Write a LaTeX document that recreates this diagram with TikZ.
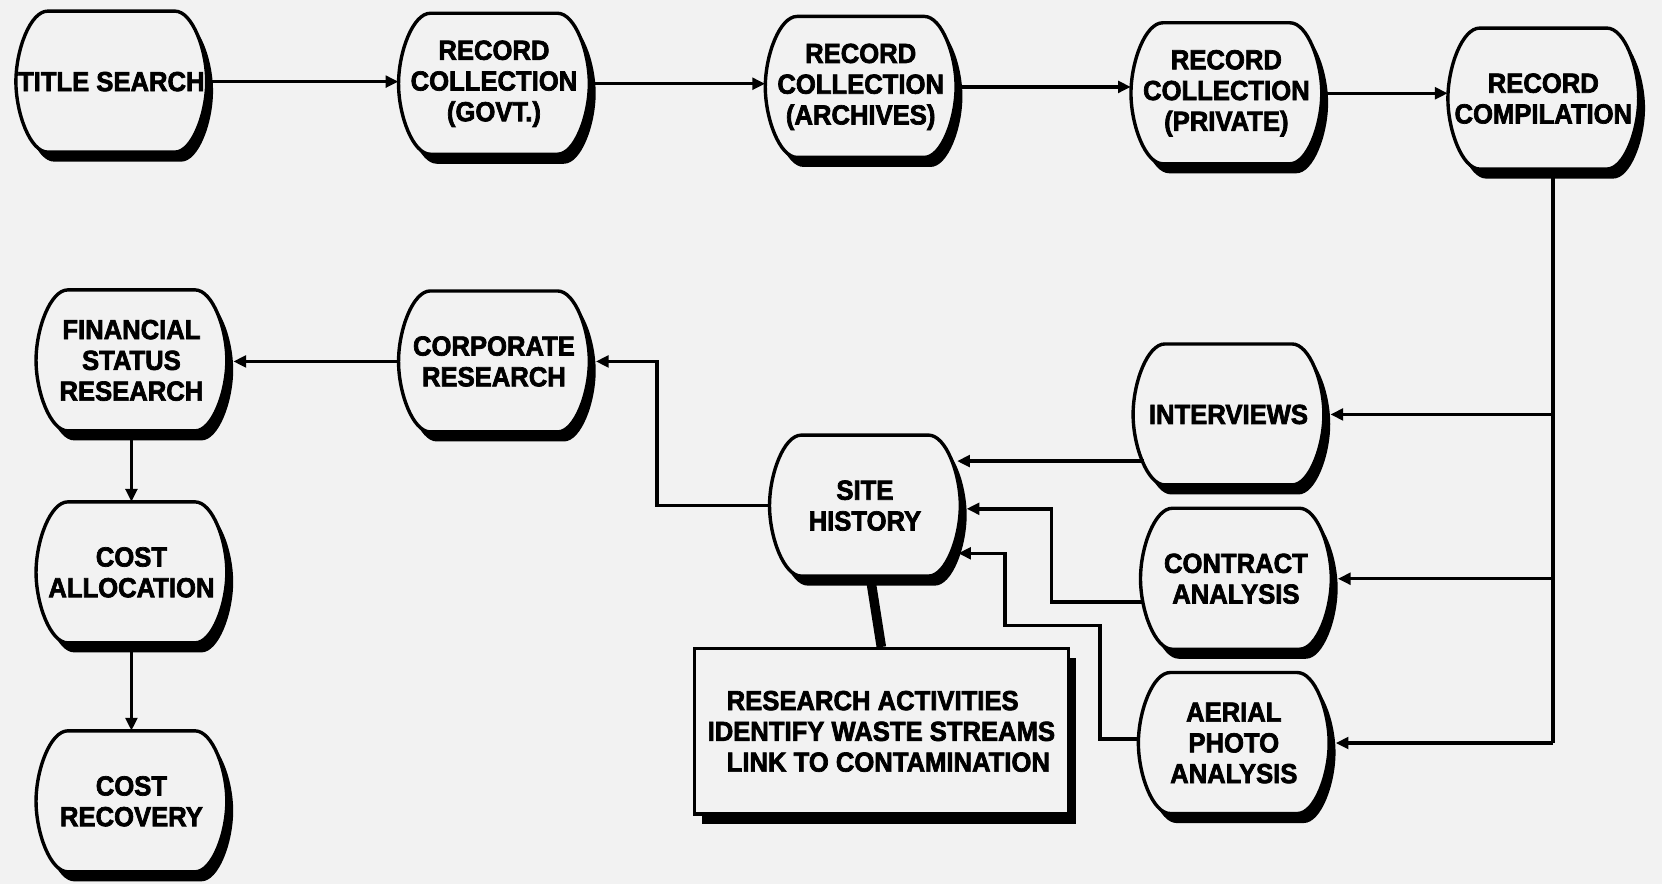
\documentclass[tikz,border=0pt]{standalone}
\usepackage{fontspec}
\setmainfont{Liberation Sans}
\newfontfamily\boxfont{Liberation Sans Bold}[FakeStretch=0.93,FakeBold=2.5]
\usetikzlibrary{arrows.meta,calc}
\definecolor{bg}{gray}{0.95}
\tikzset{
  boxtext/.style={align=center, font=\boxfont\fontsize{26}{29}\selectfont, minimum width=180pt, minimum height=133pt, inner sep=0pt},
  conn/.style={line width=3.3pt, draw=black},
  arr/.style={conn, -{Triangle[length=12pt,width=11pt]}},
  outline/.style={fill=bg, draw=black, line width=3.2pt},
  barrel/.pic={\path[pic actions] (-60,-66.5) -- (60,-66.5) .. controls (76.5,-66.5) and (90,-29.8) .. (90,0) .. controls (90,29.8) and (76.5,66.5) .. (60,66.5) -- (-60,66.5) .. controls (-76.5,66.5) and (-90,29.8) .. (-90,0) .. controls (-90,-29.8) and (-76.5,-66.5) .. cycle;},
  notebox/.style={fill=bg, draw=black, line width=3.2pt, minimum width=353pt, minimum height=156pt, inner sep=0pt, align=left, font=\boxfont\fontsize{26}{29}\selectfont},
}
\newcommand\bbox[4]{%
  \pic[fill=black] at (#2+6,#3+9) {barrel};
  \pic[outline] at (#2,#3) {barrel};
  \node[boxtext] (#1) at (#2,#3) {#4};
}
\begin{document}
\begin{tikzpicture}[x=1pt,y=-1pt]
\fill[bg] (0,0) rectangle (1568,834);
\useasboundingbox (0,0) rectangle (1568,834);
\bbox{title}{105}{77}{TITLE SEARCH}
\bbox{govt}{466}{79}{RECORD\\COLLECTION\\(GOVT.)}
\bbox{arch}{812}{82}{RECORD\\COLLECTION\\(ARCHIVES)}
\bbox{priv}{1157}{88}{RECORD\\COLLECTION\\(PRIVATE)}
\bbox{comp}{1456}{93}{RECORD\\COMPILATION}
\bbox{fin}{124}{340}{FINANCIAL\\STATUS\\RESEARCH}
\bbox{corp}{466}{341}{CORPORATE\\RESEARCH}
\bbox{intv}{1159}{391}{INTERVIEWS}
\bbox{site}{816}{477}{SITE\\HISTORY}
\bbox{contr}{1166}{546}{CONTRACT\\ANALYSIS}
\bbox{aer}{1164}{701}{AERIAL\\PHOTO\\ANALYSIS}
\bbox{alloc}{124}{540}{COST\\ALLOCATION}
\bbox{recov}{124}{756}{COST\\RECOVERY}
% note box
\fill[black] (662,621) rectangle (1015,777);
\node[notebox] (note) at (831.5,690) {\hspace*{18pt}RESEARCH ACTIVITIES\\IDENTIFY WASTE STREAMS\\\hspace*{18pt}LINK TO CONTAMINATION};
\draw[line width=9pt] ($(site.south)+(5,0)$) -- (note.north);
% top row
\draw[arr] (title.east) -- (title.east -| govt.west);
\draw[arr] (govt.east) -- (govt.east -| arch.west);
\draw[arr] (arch.east) -- (arch.east -| priv.west);
\draw[arr] (priv.east) -- (priv.east -| comp.west);
% trunk
\coordinate (tb) at (1465,701);
\draw[conn] (comp.south -| tb) -- (tb);
\draw[arr] (intv.east -| tb) -- ($(intv.east)+(6,0)$);
\draw[arr] (contr.east -| tb) -- ($(contr.east)+(6,0)$);
\draw[arr] (aer.east -| tb) -- ($(aer.east)+(6,0)$);
% into site history
\draw[arr] ($(intv.center)+(-80,44)$) -- ($(site.center)+(87,-42)$);
\draw[arr] ($(contr.center)+(-89,22)$) -- ++(-85,0) |- ($(site.center)+(96,3)$);
\draw[arr] ($(aer.center)+(-90,-4)$) -- ++(-36,0) -- ++(0,-107) -- ++(-90,0) |- ($(site.center)+(88,45)$);
% left side
\draw[arr] (site.west) -- ++(-106,0) |- ($(corp.east)+(6,0)$);
\draw[arr] (corp.west) -- ($(corp.west -| fin.east)+(6,0)$);
\draw[arr] (fin.south) -- (alloc.north);
\draw[arr] (alloc.south) -- (recov.north);
\end{tikzpicture}
\end{document}
